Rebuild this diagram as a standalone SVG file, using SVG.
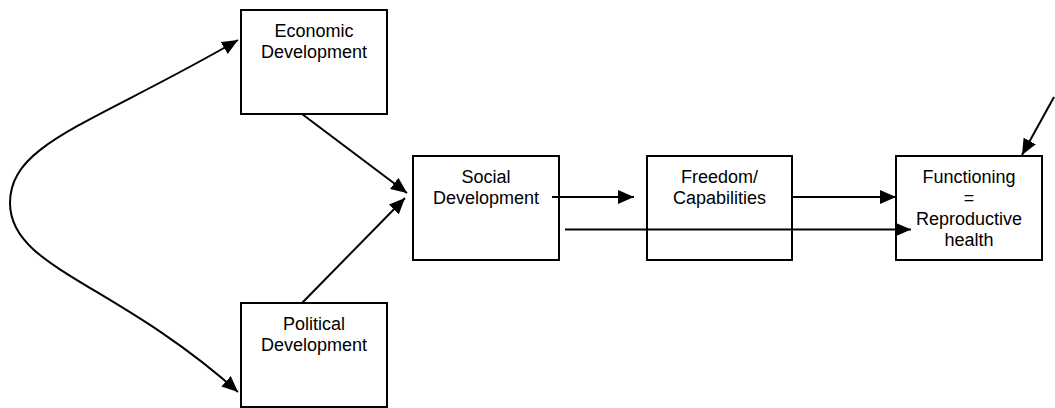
<svg xmlns="http://www.w3.org/2000/svg" width="1055" height="408" viewBox="0 0 1055 408">
  <style>
    .box { fill: #ffffff; stroke: #000000; stroke-width: 2; }
    .label { font-family: "Liberation Sans", Arial, sans-serif; font-size: 18px; fill: #000000; text-anchor: middle; }
    .link { fill: none; stroke: #000000; stroke-width: 2; }
  </style>
  <defs>
    <marker id="arrow" viewBox="0 0 16 14" refX="16" refY="7" markerWidth="16" markerHeight="14" markerUnits="userSpaceOnUse" orient="auto-start-reverse">
      <path d="M0,0 L16,7 L0,14 z" fill="#000000"/>
    </marker>
  </defs>

  <g id="economic">
    <rect class="box" x="241" y="10" width="146" height="104"/>
    <text class="label" x="314" y="37">Economic</text>
    <text class="label" x="314" y="58">Development</text>
  </g>

  <g id="political">
    <rect class="box" x="241" y="303" width="146" height="104"/>
    <text class="label" x="314" y="330">Political</text>
    <text class="label" x="314" y="351">Development</text>
  </g>

  <g id="social">
    <rect class="box" x="413" y="156" width="146" height="104"/>
    <text class="label" x="486" y="183">Social</text>
    <text class="label" x="486" y="204">Development</text>
  </g>

  <g id="freedom">
    <rect class="box" x="647" y="156" width="145" height="104"/>
    <text class="label" x="719.5" y="183">Freedom/</text>
    <text class="label" x="719.5" y="204">Capabilities</text>
  </g>

  <g id="functioning">
    <rect class="box" x="896" y="156" width="146" height="104"/>
    <text class="label" x="969" y="183">Functioning</text>
    <text class="label" x="969" y="204">=</text>
    <text class="label" x="969" y="225">Reproductive</text>
    <text class="label" x="969" y="246">health</text>
  </g>

  <g id="connectors">
    <!-- two-way loop between economic and political development -->
    <path class="link" d="M238,40 C91,125 10,143 10,203 C10,268 115,282 238,392" marker-start="url(#arrow)" marker-end="url(#arrow)"/>
    <line class="link" x1="302" y1="114" x2="407" y2="193" marker-end="url(#arrow)"/>
    <line class="link" x1="302" y1="303" x2="405" y2="198" marker-end="url(#arrow)"/>
    <line class="link" x1="552" y1="197" x2="634" y2="197" marker-end="url(#arrow)"/>
    <line class="link" x1="792" y1="197" x2="896" y2="197" marker-end="url(#arrow)"/>
    <line class="link" x1="565" y1="229.5" x2="911" y2="229.5" marker-end="url(#arrow)"/>
    <line class="link" x1="1054" y1="97" x2="1022" y2="155" marker-end="url(#arrow)"/>
  </g>
</svg>
